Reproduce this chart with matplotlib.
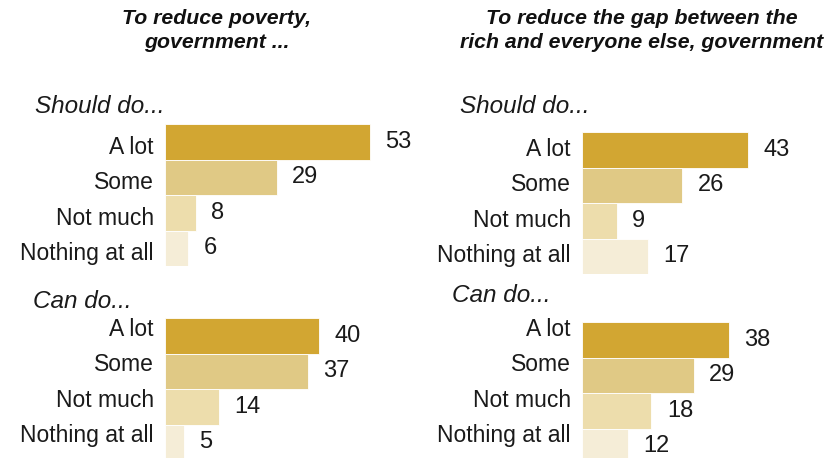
import matplotlib
matplotlib.use("Agg")
from matplotlib import pyplot as plt
from matplotlib.transforms import ScaledTranslation

plt.rcParams['font.family'] = ['Liberation Sans', 'DejaVu Sans']

categories = ["A lot", "Some", "Not much", "Nothing at all"]
poverty_should = [53, 29, 8, 6]
poverty_can = [40, 37, 14, 5]
gap_should = [43, 26, 9, 17]
gap_can = [38, 29, 18, 12]

colors = ["#D2A632", "#E0C985", "#EDDDAC", "#F5EDD7"]

W, H = 829, 458
PX_PER_UNIT = 3.86
BAR_PX = 35.5
XMAX = 60

fig = plt.figure(figsize=(W / 100, H / 100), dpi=100)


def add_panel(left, top, values, label_dy):
    # left/top in pixels, label_dy = vertical shift of category labels (px, + is up)
    w = XMAX * PX_PER_UNIT
    h = len(values) * BAR_PX
    ax = fig.add_axes([left / W, (H - top - h) / H, w / W, h / H])
    ypos = list(range(len(values)))
    ax.barh(ypos, values, height=1.0, color=colors, edgecolor="white", linewidth=0.6)
    ax.set_xlim(0, XMAX)
    ax.set_ylim(len(values) - 0.5, -0.5)
    ax.set_yticks(ypos)
    ax.set_yticklabels(categories, fontsize=16.5, color="#1a1a1a")
    ax.tick_params(axis="y", length=0, pad=8)
    shift = ScaledTranslation(0, label_dy / 100, fig.dpi_scale_trans)
    for lab in ax.get_yticklabels():
        lab.set_transform(lab.get_transform() + shift)
    ax.set_xticks([])
    for s in ax.spines.values():
        s.set_visible(False)
    ax.patch.set_alpha(0)
    for y, v in zip(ypos, values):
        ax.annotate(str(v), (v, y), xytext=(11, 0), textcoords="offset points",
                    ha="left", va="center", fontsize=17, color="#1a1a1a")
    return ax


add_panel(165, 124, poverty_should, -3)
add_panel(582, 132, gap_should, 3)
add_panel(165, 318, poverty_can, 9)
add_panel(582, 322, gap_can, 13)

# section headings
for x, y, txt in [(35, 107, "Should do..."), (460, 107, "Should do..."),
                  (33, 302, "Can do..."), (452, 295, "Can do...")]:
    fig.text(x / W, 1 - y / H, txt, ha="left", va="center", fontsize=17.5,
             style="italic", color="#1a1a1a")

# panel titles
fig.text(217 / W, 1 - 30.5 / H, "To reduce poverty,\ngovernment ...", ha="center",
         va="center", fontsize=15.3, fontweight="bold", style="italic",
         linespacing=1.3, color="#111111")
fig.text(642 / W, 1 - 30.5 / H, "To reduce the gap between the\nrich and everyone else, government",
         ha="center", va="center", fontsize=15.3, fontweight="bold", style="italic",
         linespacing=1.3, color="#111111")

fig.savefig("out.png", dpi=100)
